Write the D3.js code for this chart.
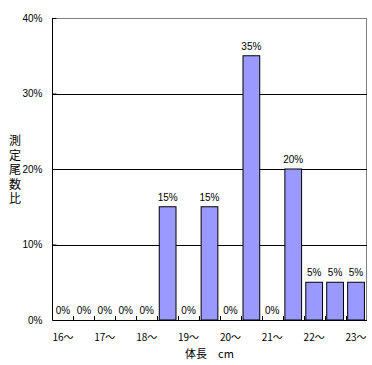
<!DOCTYPE html>
<html>
<head>
	<meta charset="utf-8">
	<title>体長別測定尾数比</title>
	<style>
		body { margin: 0; background: #fff; }
		text { font-family: "Noto Sans CJK JP", sans-serif; fill: #000; }
		.num { font-family: "Liberation Sans", Arial, sans-serif; font-size: 10px; }
	</style>
</head>
<body>
<script src="https://cdn.jsdelivr.net/npm/d3@7"></script>
<script>
	// 階級（0.5cm刻み）
	const classes = ["16", "16.5", "17", "17.5", "18", "18.5", "19", "19.5",
		"20", "20.5", "21", "21.5", "22", "22.5", "23"]
	// 測定尾数比 %
	const ratios = [0, 0, 0, 0, 0, 15, 0, 15, 0, 35, 0, 20, 5, 5, 5]
	// 目盛りラベル
	const xTickLabels = ["16〜", "17〜", "18〜", "19〜", "20〜", "21〜", "22〜", "23〜"]
	const yTicks = [0, 10, 20, 30, 40]
	const xTitle = "体長　cm"
	const yTitle = "測定尾数比"

	const width = 372, height = 365
	const plot = { left: 52.5, right: 366.5, top: 18, bottom: 320 }

	const svg = d3.select("body").append("svg")
		.attr("width", width)
		.attr("height", height)

	// 比例尺
	const x = d3.scaleBand()
		.domain(classes)
		.range([plot.left, plot.right])
		.paddingInner(0.2)
		.paddingOuter(0.1)
	const y = d3.scaleLinear()
		.domain([0, 40])
		.range([plot.bottom, plot.top])

	// 枠（上・右は灰色）
	svg.append("rect")
		.attr("x", plot.left)
		.attr("y", y(40))
		.attr("width", plot.right - plot.left)
		.attr("height", y(0) - y(40))
		.attr("fill", "none")
		.attr("stroke", "#808080")
		.attr("shape-rendering", "crispEdges")

	// 目盛線
	svg.append("g")
		.selectAll("line")
		.data(yTicks.filter(d => d > 0 && d < 40))
		.enter().append("line")
			.attr("x1", plot.left)
			.attr("x2", plot.right)
			.attr("y1", d => Math.round(y(d)))
			.attr("y2", d => Math.round(y(d)))
			.attr("stroke", "#000")
			.attr("shape-rendering", "crispEdges")

	// 棒
	svg.append("g")
		.selectAll("rect")
		.data(classes)
		.enter().append("rect")
			.attr("x", d => x(d))
			.attr("y", (d, i) => y(ratios[i]))
			.attr("width", x.bandwidth())
			.attr("height", (d, i) => y(0) - y(ratios[i]))
			.attr("fill", "#9999ff")
			.attr("stroke", "#000")
			.attr("stroke-width", 1)

	// データラベル
	svg.append("g")
		.selectAll("text")
		.data(classes)
		.enter().append("text")
			.attr("class", "num")
			.attr("x", d => x(d) + x.bandwidth() / 2)
			.attr("y", (d, i) => y(ratios[i]) - 6)
			.attr("text-anchor", "middle")
			.text((d, i) => ratios[i] + "%")

	// Y軸
	const yAxis = d3.axisLeft(y)
		.tickValues(yTicks)
		.tickSize(-4)
		.tickPadding(10)
		.tickFormat(d => d + "%")
	const gy = svg.append("g")
		.attr("transform", `translate(${plot.left},0)`)
		.call(yAxis)
	gy.select(".domain").remove()
	gy.selectAll(".tick line").attr("stroke", "#000")
	gy.selectAll(".tick text")
		.attr("class", "num")
		.attr("font-family", null)
		.attr("font-size", null)
	svg.append("line")
		.attr("x1", plot.left).attr("x2", plot.left)
		.attr("y1", plot.top).attr("y2", plot.bottom)
		.attr("stroke", "#000")
		.attr("shape-rendering", "crispEdges")

	// X軸：境界ごとの内向き目盛り
	const step = x.step()
	const bounds = classes.slice(1).map(d => x(d) - x.paddingInner() * step / 2)
	svg.append("g")
		.selectAll("line")
		.data(bounds)
		.enter().append("line")
			.attr("x1", d => Math.round(d) + 0.5)
			.attr("x2", d => Math.round(d) + 0.5)
			.attr("y1", plot.bottom)
			.attr("y2", plot.bottom - 4)
			.attr("stroke", "#000")
	svg.append("line")
		.attr("x1", plot.left).attr("x2", plot.right)
		.attr("y1", plot.bottom).attr("y2", plot.bottom)
		.attr("stroke", "#000")
		.attr("shape-rendering", "crispEdges")

	// X目盛りラベル（1cmごと）
	svg.append("g")
		.selectAll("text")
		.data(xTickLabels)
		.enter().append("text")
			.attr("x", (d, i) => x(classes[i * 2]) + x.bandwidth() / 2)
			.attr("y", 341)
			.attr("text-anchor", "middle")
			.attr("font-size", 10)
			.text(d => d)

	// 軸タイトル
	svg.append("text")
		.attr("x", (plot.left + plot.right) / 2)
		.attr("y", 357.5)
		.attr("text-anchor", "middle")
		.attr("font-size", 11)
		.text(xTitle)

	// 縦書きのY軸タイトル
	svg.append("text")
		.attr("x", 15)
		.attr("y", 171)
		.attr("text-anchor", "middle")
		.attr("font-size", 12)
		.style("writing-mode", "vertical-rl")
		.style("letter-spacing", "2.6px")
		.text(yTitle)
</script>
</body>
</html>
